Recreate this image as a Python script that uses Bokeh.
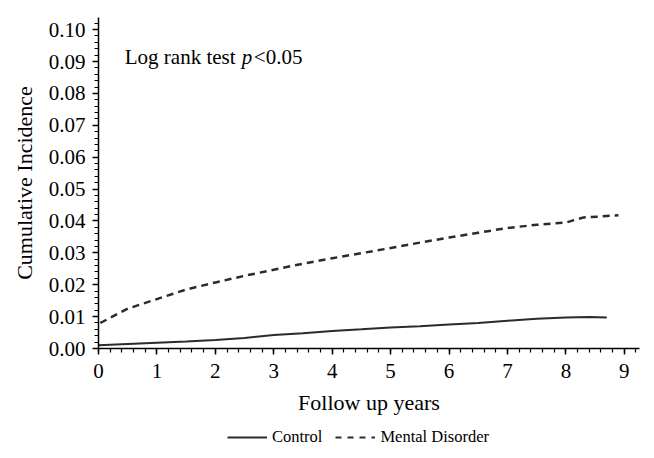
from bokeh.plotting import figure
from bokeh.layouts import column
from bokeh.models import (Range1d, SingleIntervalTicker, PrintfTickFormatter, Legend,
                          LegendItem, Label)
from bokeh.embed import file_html
from bokeh.resources import INLINE

# Data
years_control = [0.0, 0.5, 1.0, 1.5, 2.0, 2.5, 3.0, 3.5, 4.0, 4.5, 5.0, 5.5, 6.0,
                 6.5, 7.0, 7.5, 8.0, 8.4, 8.7]
inc_control = [0.0010, 0.0014, 0.0018, 0.0022, 0.0027, 0.0033, 0.0042, 0.0048, 0.0055,
               0.0060, 0.0066, 0.0070, 0.0075, 0.0080, 0.0087, 0.0093, 0.0097, 0.0099,
               0.0097]
years_mental = [0.03, 0.5, 1.0, 1.5, 2.0, 2.5, 3.0, 3.5, 4.0, 4.5, 5.0, 5.5, 6.0,
                6.5, 7.0, 7.5, 8.0, 8.3, 8.6, 8.9]
inc_mental = [0.0080, 0.0125, 0.0155, 0.0185, 0.0207, 0.0228, 0.0247, 0.0266, 0.0283,
              0.0299, 0.0315, 0.0332, 0.0348, 0.0363, 0.0378, 0.0388, 0.0395, 0.0411,
              0.0414, 0.0418]
series_labels = ["Control", "Mental Disorder"]
x_label = "Follow up years"
y_label = "Cumulative Incidence"

FONT = "Liberation Serif"
INK = "#2b2b2b"

p = figure(width=646, height=420, output_backend="svg", toolbar_location=None,
           x_range=Range1d(0, 9.26), y_range=Range1d(0, 0.1038),
           min_border_left=98, min_border_top=17, min_border_right=7, min_border_bottom=72)
p.outline_line_color = None
p.grid.visible = False
p.background_fill_color = "white"
p.border_fill_color = "white"

r1 = p.line(years_control, inc_control, line_color=INK, line_width=2)
r2 = p.line(years_mental, inc_mental, line_color=INK, line_width=2.5, line_dash="7 5")

for ax in (p.xaxis[0], p.yaxis[0]):
    ax.axis_line_color = "black"
    ax.axis_line_width = 1.5
    ax.major_tick_line_color = "black"
    ax.minor_tick_line_color = "black"
    ax.major_tick_line_width = 1.5
    ax.minor_tick_line_width = 1.2
    ax.major_tick_in = 0
    ax.major_tick_out = 6
    ax.minor_tick_in = 0
    ax.minor_tick_out = 4
    ax.major_label_text_font = FONT
    ax.major_label_text_font_size = "21px"
    ax.major_label_text_color = "black"
    ax.axis_label_text_font = FONT
    ax.axis_label_text_font_size = "22px"
    ax.axis_label_text_font_style = "normal"
    ax.axis_label_text_color = "black"

p.xaxis.ticker = SingleIntervalTicker(interval=1, num_minor_ticks=5)
p.yaxis.ticker = SingleIntervalTicker(interval=0.01, num_minor_ticks=5)
p.yaxis.formatter = PrintfTickFormatter(format="%.2f")
p.xaxis.axis_label = x_label
p.yaxis.axis_label = y_label
p.xaxis.major_label_standoff = 9
p.yaxis.major_label_standoff = 7
p.xaxis.axis_label_standoff = 9
p.yaxis.axis_label_standoff = 9

# annotation "Log rank test p<0.05"
LX, LY = 0.45, 0.0877
p.add_layout(Label(x=LX, y=LY, text="Log rank test", text_font=FONT,
                   text_font_size="21px", text_color="black"))
p.add_layout(Label(x=LX, y=LY, x_offset=117, text="p", text_font=FONT,
                   text_font_style="italic", text_font_size="21px", text_color="black"))
p.add_layout(Label(x=LX, y=LY, x_offset=129, text="<0.05", text_font=FONT,
                   text_font_size="21px", text_color="black"))

# legend in a separate strip below the chart
lg = figure(width=646, height=30, output_backend="svg", toolbar_location=None,
            x_range=Range1d(0, 1), y_range=Range1d(0, 1),
            min_border_left=0, min_border_right=0, min_border_top=0, min_border_bottom=0)
lg.axis.visible = False
lg.grid.visible = False
lg.outline_line_color = None
l1 = lg.line([-5, -4], [-5, -5], line_color=INK, line_width=2)
l2 = lg.line([-5, -4], [-5, -5], line_color=INK, line_width=2, line_dash="6 6")
legend = Legend(items=[LegendItem(label=series_labels[0], renderers=[l1]),
                       LegendItem(label=series_labels[1], renderers=[l2])],
                orientation="horizontal", location=(129, 3),
                label_text_font=FONT, label_text_font_size="16.5px",
                label_text_color="black", glyph_width=40, glyph_height=16,
                label_standoff=5, spacing=13, padding=0, margin=0,
                border_line_color=None, background_fill_alpha=0)
lg.add_layout(legend, "center")

layout = column(p, lg, spacing=0)
open("out.html", "w").write(file_html(layout, INLINE))
